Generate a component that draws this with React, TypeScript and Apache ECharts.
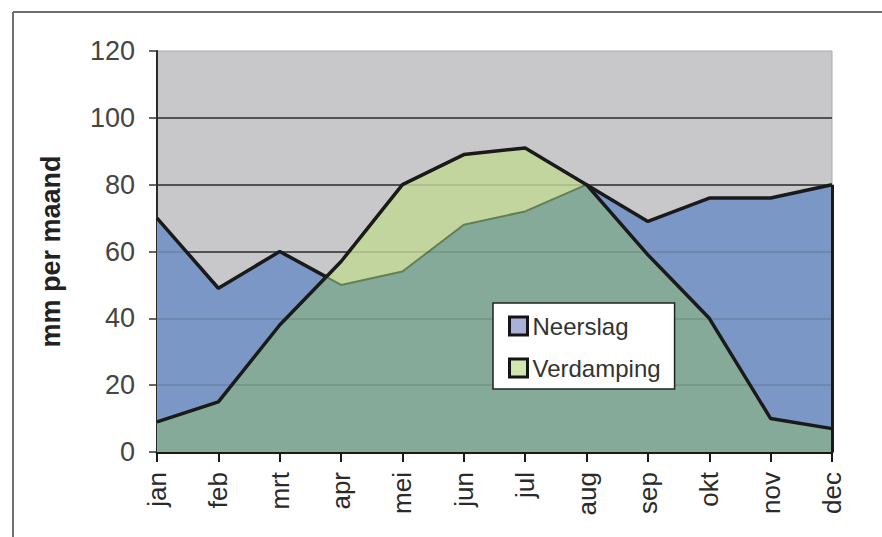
import React, { useEffect, useRef } from "react";
import * as echarts from "echarts";

const months = ["jan", "feb", "mrt", "apr", "mei", "jun", "jul", "aug", "sep", "okt", "nov", "dec"];
const neerslag = [70, 49, 60, 50, 54, 68, 72, 80, 69, 76, 76, 80];
const verdamping = [9, 15, 38, 57, 80, 89, 91, 80, 59, 40, 10, 7];
const yMin = 0;
const yMax = 120;
const yStep = 20;

const FONT = "Liberation Sans, Arial, sans-serif";

type P = { x: number; n: number; v: number };

function buildPoints(): P[] {
  const pts: P[] = [];
  for (let i = 0; i < months.length; i++) {
    pts.push({ x: i, n: neerslag[i], v: verdamping[i] });
    if (i < months.length - 1) {
      const d0 = neerslag[i] - verdamping[i];
      const d1 = neerslag[i + 1] - verdamping[i + 1];
      if (d0 * d1 < 0) {
        const t = d0 / (d0 - d1);
        const y = neerslag[i] + t * (neerslag[i + 1] - neerslag[i]);
        pts.push({ x: i + t, n: y, v: y });
      }
    }
  }
  return pts;
}

export default function App() {
  const ref = useRef<HTMLDivElement>(null);

  useEffect(() => {
    if (!ref.current) return;
    const chart = echarts.init(ref.current, undefined, { renderer: "svg" });
    const pts = buildPoints();
    const minArea = pts.map((p) => [p.x, Math.min(p.n, p.v)]);
    const nArea = neerslag.map((v, i) => [i, v]);
    const vArea = verdamping.map((v, i) => [i, v]);
    const nLine = pts.map((p) => [p.x, p.n >= p.v ? p.n : "-"]);
    const last = months.length - 1;

    const splitColors: string[] = [];
    const faintGrid: any[] = [];
    for (let v = yMin; v <= yMax; v += yStep) {
      splitColors.push(v === yMax ? "rgba(0,0,0,0)" : "#353535");
      if (v > yMin && v < yMax) faintGrid.push({ yAxis: v });
    }

    chart.setOption({
      animation: false,
      backgroundColor: "#ffffff",
      textStyle: { fontFamily: FONT },
      grid: {
        left: 157,
        right: 50,
        top: 51,
        bottom: 85,
        show: true,
        backgroundColor: "#c8c8cb",
        borderColor: "#a8a8a8",
        borderWidth: 1,
      },
      legend: {
        orient: "vertical",
        left: 493,
        top: 303,
        backgroundColor: "#ffffff",
        borderColor: "#222222",
        borderWidth: 1.5,
        borderRadius: 0,
        padding: [11, 14, 9, 15],
        itemGap: 18,
        itemWidth: 18,
        itemHeight: 18,
        icon: "rect",
        z: 20,
        textStyle: { fontFamily: FONT, fontSize: 24, color: "#333333", lineHeight: 24 },
        data: [
          { name: "Neerslag", itemStyle: { color: "#aab0d8", borderColor: "#151515", borderWidth: 3 } },
          { name: "Verdamping", itemStyle: { color: "#d2e6b0", borderColor: "#151515", borderWidth: 3 } },
        ],
      },
      xAxis: {
        type: "value",
        min: 0,
        max: last,
        interval: 1,
        splitLine: { show: false },
        axisLine: { show: true, onZero: false, lineStyle: { color: "#1a1a1a", width: 3 } },
        axisTick: { show: true, length: 10, lineStyle: { color: "#1a1a1a", width: 2 } },
        axisLabel: {
          rotate: 90,
          margin: 20,
          fontSize: 26,
          color: "#2a2a2a",
          fontFamily: FONT,
          formatter: (v: number) => months[Math.round(v)] ?? "",
        },
      },
      yAxis: {
        type: "value",
        min: yMin,
        max: yMax,
        interval: yStep,
        name: "mm per maand",
        nameLocation: "middle",
        nameGap: 93,
        nameTextStyle: { fontSize: 27, fontWeight: "bold", color: "#222222", fontFamily: FONT },
        axisLine: { show: true, lineStyle: { color: "#2a2a2a", width: 2 } },
        axisTick: { show: true, length: 8, lineStyle: { color: "#333333", width: 1.5 } },
        axisLabel: { margin: 22, fontSize: 27, color: "#454545", fontFamily: FONT },
        splitLine: { show: true, lineStyle: { color: splitColors, width: 1.5 } },
      },
      series: [
        {
          name: "Neerslag",
          type: "line",
          data: nArea,
          showSymbol: false,
          silent: true,
          lineStyle: { width: 0, opacity: 0 },
          itemStyle: { color: "#7b97c5" },
          areaStyle: { color: "#7b97c5", opacity: 1 },
          z: 1,
        },
        {
          name: "Verdamping",
          type: "line",
          data: vArea,
          showSymbol: false,
          silent: true,
          lineStyle: { width: 0, opacity: 0 },
          itemStyle: { color: "#c3d59e" },
          areaStyle: { color: "#c3d59e", opacity: 1 },
          z: 2,
        },
        {
          name: "overlap",
          type: "line",
          data: minArea,
          showSymbol: false,
          silent: true,
          lineStyle: { color: "#647f52", width: 2 },
          areaStyle: { color: "#85aa9a", opacity: 1 },
          z: 3,
          markLine: {
            silent: true,
            symbol: "none",
            label: { show: false },
            lineStyle: { color: "rgba(20,30,20,0.16)", width: 1.5, type: "solid" },
            data: faintGrid,
          },
        },
        {
          name: "nLine",
          type: "line",
          data: nLine,
          showSymbol: false,
          silent: true,
          connectNulls: false,
          lineStyle: { color: "#1a1a1a", width: 3.5 },
          z: 5,
          markLine: {
            silent: true,
            symbol: "none",
            label: { show: false },
            lineStyle: { color: "#1a1a1a", width: 3, type: "solid" },
            data: [[{ coord: [last, yMin] }, { coord: [last, neerslag[last]] }]],
          },
        },
        {
          name: "vLine",
          type: "line",
          data: vArea,
          showSymbol: false,
          silent: true,
          lineStyle: { color: "#1a1a1a", width: 3.5 },
          z: 5,
        },
      ],
      graphic: [
        { type: "line", shape: { x1: 13, y1: 12, x2: 882, y2: 12 }, style: { stroke: "#6e6e6e", lineWidth: 2 } },
        { type: "line", shape: { x1: 13, y1: 12, x2: 13, y2: 537 }, style: { stroke: "#6e6e6e", lineWidth: 2 } },
      ],
    });
    return () => chart.dispose();
  }, []);

  return <div ref={ref} style={{ position: "absolute", left: 0, top: 0, width: 882, height: 537 }} />;
}
